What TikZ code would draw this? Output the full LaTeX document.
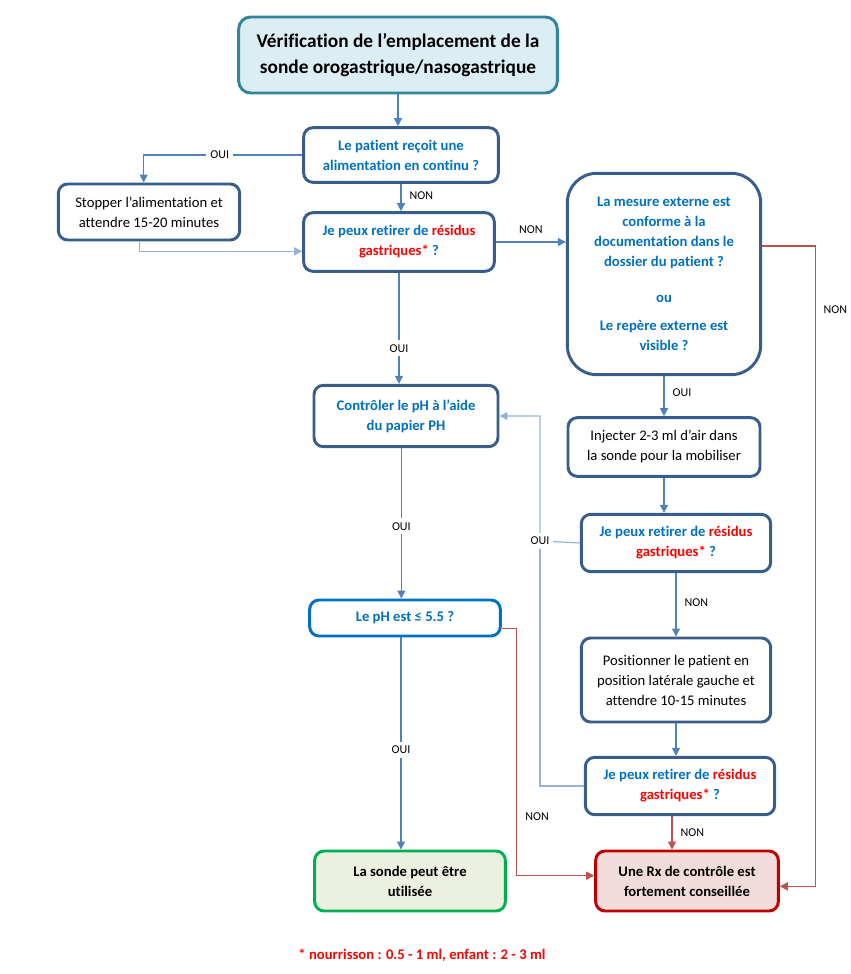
\documentclass[tikz,border=0pt]{standalone}
\usepackage{fontspec}
\setmainfont{Carlito}[Ligatures=NoCommon]
\usetikzlibrary{arrows.meta,positioning,calc}
\definecolor{boxblue}{HTML}{385D8A}
\definecolor{txtblue}{HTML}{0070C0}
\definecolor{lineblue}{HTML}{4F81BD}
\definecolor{paleblue}{HTML}{95B3D7}
\definecolor{linered}{HTML}{C0504D}
\definecolor{titleedge}{HTML}{31849B}
\definecolor{titlefill}{HTML}{DBEEF4}
\definecolor{okedge}{HTML}{00B050}
\definecolor{okfill}{HTML}{EBF1DE}
\definecolor{rxedge}{HTML}{C00000}
\definecolor{rxfill}{HTML}{F2DCDB}
\definecolor{warnred}{HTML}{FF0000}
\newcommand{\residus}{{\color{txtblue}Je peux retirer de} {\color{warnred}résidus}\\{\color{warnred}gastriques*} {\color{txtblue}?}}
\tikzset{
    box/.style={draw=boxblue,line width=2.2pt,rounded corners=7pt,align=center,inner sep=2pt,font=\fontsize{11}{15}\selectfont},
    question/.style={box,font=\fontsize{11}{15}\selectfont\bfseries,text=txtblue},
    lbl/.style={font=\fontsize{9}{11}\selectfont,inner sep=1pt,text=black},
    gaplbl/.style={lbl,fill=white,inner sep=3pt},
    arrow/.style={-{Triangle[length=6pt,width=6pt]},color=lineblue,line width=0.9pt},
    palearrow/.style={arrow,color=paleblue},
    redarrow/.style={arrow,color=linered}
}

\begin{document}
\begin{tikzpicture}[x=0.75pt,y=-0.75pt]
    \useasboundingbox (0,0) rectangle (850,974);
    % left column
    \node[box,draw=titleedge,fill=titlefill,rounded corners=9pt,font=\fontsize{14.5}{20}\selectfont\bfseries,minimum width=239pt,minimum height=57pt] (title) at (398,55) {Vérification de l’emplacement de la\\sonde orogastrique/nasogastrique};
    \node[question,minimum width=146pt,minimum height=41pt] (q1) at (401,155) {Le patient reçoit une\\alimentation en continu ?};
    \node[box,minimum width=136pt,minimum height=42pt] (stop) at (149,212) {Stopper l’alimentation et\\attendre 15-20 minutes};
    \node[question,minimum width=143pt,minimum height=44pt] (q2) at (399,242) {\residus};
    \node[question,minimum width=138pt,minimum height=46pt] (check) at (406,416) {Contrôler le pH à l’aide\\du papier PH};
    \node[question,draw=txtblue,minimum width=143pt,minimum height=27pt] (ph) at (405,618) {Le pH est ≤ 5.5 ?};
    \node[box,draw=okedge,fill=okfill,font=\fontsize{11}{15}\selectfont\bfseries,minimum width=143pt,minimum height=45pt] (sonde) at (410,881) {La sonde peut être\\utilisée};
    % right column
    \node[question,rounded corners=22pt,minimum width=145pt,minimum height=151pt] (big) at (664,274) {La mesure externe est\\conforme à la\\documentation dans le\\dossier du patient ?\\[12pt]ou\\[6pt]Le repère externe est\\visible ?};
    \node[box,minimum width=144pt,minimum height=44pt] (inject) at (664,447) {Injecter 2-3 ml d’air dans\\la sonde pour la mobiliser};
    \node[question,minimum width=142pt,minimum height=43pt] (q3) at (676,543) {\residus};
    \node[box,minimum width=142pt,minimum height=63pt] (pos) at (676,680) {Positionner le patient en\\position latérale gauche et\\attendre 10-15 minutes};
    \node[question,minimum width=142pt,minimum height=43pt] (q4) at (680,786) {\residus};
    \node[box,draw=rxedge,fill=rxfill,font=\fontsize{11}{15}\selectfont\bfseries,minimum width=137pt,minimum height=45pt] (rx) at (687,881) {Une Rx de contrôle est\\fortement conseillée};
    \node[font=\fontsize{11}{13}\selectfont\bfseries,text=warnred] (note) at (422,955) {* nourrisson : 0.5 - 1 ml, enfant : 2 - 3 ml};
    \coordinate (jn) at (540,541);

    % connectors
    \draw[arrow] (title.south) -- (title.south |- q1.north);
    \draw[arrow] (q1.west) -| ([xshift=-4pt]stop.north) node[gaplbl,pos=.26] {OUI};
    \draw[arrow] (q1.south) -- (q1.south |- q2.north) node[lbl,pos=.45,right=5pt] {NON};
    \draw[palearrow] ([xshift=-7pt]stop.south) |- ([yshift=-7pt]q2.west);
    \draw[arrow] (q2.east) -- (q2.east -| big.west) node[lbl,midway,above=5pt] {NON};
    \draw[arrow] (q2.south) -- (q2.south |- check.north) node[gaplbl,pos=.68] {OUI};
    \draw[arrow] ([xshift=-3.5pt]check.south) -- ([xshift=-3.5pt]check.south |- ph.north) node[gaplbl,pos=.52] {OUI};
    \draw[arrow] ([xshift=-3pt]ph.south) -- ([xshift=-3pt]ph.south |- sonde.north) node[gaplbl,pos=.53] {OUI};
    \draw[arrow] (big.south) -- (big.south |- inject.north) node[lbl,pos=.4,right=5pt] {OUI};
    \draw[arrow] (inject.south) -- (inject.south |- q3.north);
    \draw[arrow] (q3.south) -- (q3.south |- pos.north) node[lbl,pos=.47,right=5pt] {NON};
    \draw[arrow] (pos.south) -- (pos.south |- q4.north);
    \draw[redarrow] ([xshift=-6pt]q4.south) -- ([xshift=-6pt]q4.south |- rx.north) node[lbl,pos=.5,right=5pt] {NON};
    \draw[palearrow] (q3.west) -- (jn) |- (check.east);
    \draw[palearrow,-] (q4.west) -| (jn);
    \node[gaplbl] (oui) at (jn) {OUI};
    \draw[redarrow] ([yshift=-8pt]ph.east) -- ++(15,0) |- ([yshift=4pt]rx.west) node[lbl,pos=.38,right=5pt] {NON};
    \draw[redarrow] ([yshift=21pt]big.east) -- ++(53,0) |- ([yshift=-4pt]rx.east) node[lbl,pos=.05,right=5pt] {NON};
\end{tikzpicture}
\end{document}
